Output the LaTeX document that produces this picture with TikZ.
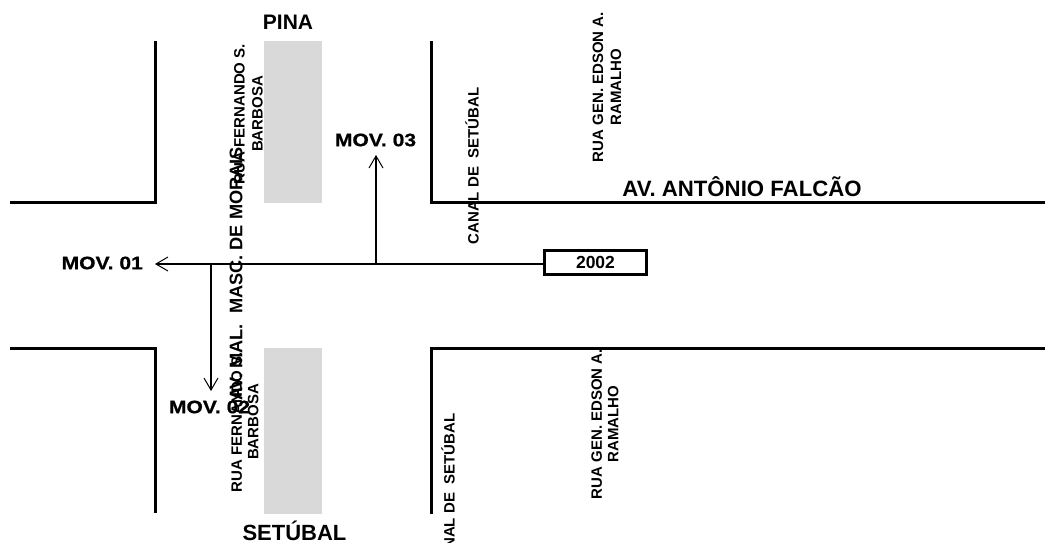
\documentclass[tikz,border=0pt]{standalone}
\usepackage{fontspec}
\setmainfont{Liberation Sans}
\newfontfamily\widefont[FakeStretch=1.17,FakeBold=0.8]{Liberation Sans Bold}
\usetikzlibrary{arrows.meta}
\definecolor{canal}{RGB}{217,217,217}
\tikzset{
  road/.style={line width=3pt,line cap=butt,line join=miter},
  flow/.style={line width=1.4pt,-{Straight Barb[length=12pt,width=14pt,line width=1pt]}},
  label/.style={inner sep=0pt,font=\bfseries,align=center},
  street/.style={label,rotate=90,font=\fontsize{15}{18}\selectfont\bfseries},
  move/.style={inner sep=0pt,font=\widefont\fontsize{18}{20}\selectfont},
  place/.style={label,font=\fontsize{21}{24}\selectfont\bfseries}
}
\begin{document}
\begin{tikzpicture}[x=1pt,y=-1pt]
\useasboundingbox (0,0) rectangle (1045,542);
\fill[canal] (264,41) rectangle (322,203);
\fill[canal] (264,348) rectangle (322,514);
\draw[road] (155,41) -- (155,202) -- (10,202);
\draw[road] (431,41) -- (431,202) -- (1045,202);
\draw[road] (10,348) -- (155,348) -- (155,513);
\draw[road] (431,514) -- (431,348) -- (1045,348);
\node[draw,line width=2.8pt,minimum width=102pt,minimum height=24pt,inner sep=0pt,font=\bfseries\fontsize{17.5}{20}\selectfont] (box) at (595.5,262.5) {2002};
\node[move,anchor=east] (m1) at (143,263) {MOV. 01};
\node[move] (m2) at (209.5,407) {MOV. 02};
\node[move] (m3) at (375.5,140) {MOV. 03};
\coordinate (tip1) at (155,264);
\coordinate (tip2) at (211,391);
\coordinate (tip3) at (376,155);
\coordinate (j2) at (211,264);
\coordinate (j3) at (376,264);
\draw[flow] (box.west) -- (box.west |- tip1) -- (tip1);
\draw[flow] (j2) -- (tip2);
\draw[flow] (j3) -- (tip3);
\node[place] (pina) at (288,22) {PINA};
\node[place,font=\fontsize{22}{24}\selectfont\bfseries] (set) at (294.5,530.5) {SETÚBAL};
\node[place,font=\fontsize{22.2}{24}\selectfont\bfseries] (falcao) at (742,187) {AV. ANTÔNIO FALCÃO};
\node[label,rotate=90,font=\fontsize{18.2}{20}\selectfont\bfseries] (mal) at (236,274) {AV. MAL.\ \ MASC. DE MORAIS};
\node[street] (fa) at (248.5,114) {RUA FERNANDO S.\\BARBOSA};
\node[street,font=\fontsize{15}{16.5}\selectfont\bfseries] (fb) at (245,422) {RUA FERNANDO S.\\BARBOSA};
\node[street] (ca) at (472,166) {CANAL DE\ \ SETÚBAL};
\node[street] (cb) at (448,492) {CANAL DE\ \ SETÚBAL};
\node[street] (ra) at (607,87) {RUA GEN. EDSON A.\\RAMALHO};
\node[street,font=\fontsize{15}{16.5}\selectfont\bfseries] (rb) at (605,424) {RUA GEN. EDSON A.\\RAMALHO};
\end{tikzpicture}
\end{document}
